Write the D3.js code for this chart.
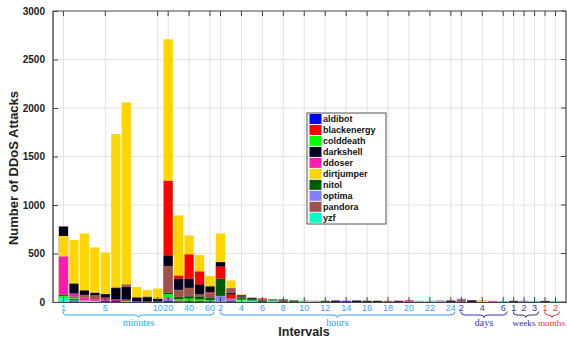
<!DOCTYPE html>
<html>
<head>
<meta charset="utf-8">
<script src="https://cdn.jsdelivr.net/npm/d3@7"></script>
<style>
  body { margin: 0; background: #fff; }
  svg { display: block; }
</style>
</head>
<body>
<svg id="chart" width="567" height="342"></svg>
<script>
// Interval groups along the x axis and the bins inside each of them
const groupNames = ["minutes", "hours", "days", "weeks", "months"];
const minuteBins = ["1","2","3","4","5","6","7","8","9","10","20","30","40","50","60"];
const hourBins = ["2","3","4","5","6","7","8","9","10","11","12","13","14","15","16","17","18","19","20","21","22","23","24"];
const dayBins = ["2","3","4","5","6"];
const weekBins = ["1","2","3"];
const monthBins = ["1","2"];

// Labelled ticks in each group
const minuteTicks = ["1","5","10","20","40","60"];
const hourTicks = ["2","4","6","8","10","12","14","16","18","20","22","24"];
const dayTicks = ["2","4","6"];
const weekTicks = ["1","2","3"];
const monthTicks = ["1","2"];

const yTicks = [0, 500, 1000, 1500, 2000, 2500, 3000];

// Botnet families
const seriesNames = ["aldibot","blackenergy","colddeath","darkshell","ddoser","dirtjumper","nitol","optima","pandora","yzf"];

// Attacks per bin (bins: 15 minute, 23 hour, 5 day, 3 week, 2 month)
const aldibot = [0,8,0,0,12,14,0,8,8,8, 12,8,10,10,8,
  0,10,0,0,0,0,0,0,0,0, 0,0,10,15,0,0,0,0,0,0,0,0,0,
  0,0,0,0,0, 0,0,0, 0,0];
const blackenergy = [0,0,0,0,0,28,25,0,0,0, 1250,272,492,316,100,
  364,76,0,0,38,0,0,0,0,0, 0,0,0,0,0,0,0,0,0,0,0,0,0,
  0,0,0,0,0, 0,0,0, 0,0];
const colddeath = [60,40,14,0,0,0,0,0,0,0, 80,28,34,25,20,
  0,0,25,0,0,0,0,0,0,0, 0,0,0,0,0,0,0,0,0,0,0,0,0,
  0,0,0,0,0, 0,0,0, 0,0];
const darkshell = [780,190,120,95,82,145,155,45,50,32, 480,240,240,182,162,
  412,92,70,40,0,0,28,0,0,0, 0,14,0,14,12,12,0,10,0,0,0,0,12,
  0,16,0,0,0, 10,0,0, 10,0];
const ddoser = [470,88,45,25,15,0,0,0,0,0, 40,15,0,0,0,
  0,17,0,0,0,0,0,0,0,0, 0,16,15,0,0,0,0,0,12,0,0,0,0,
  0,0,0,10,0, 0,0,0, 0,0];
const dirtjumper = [680,640,708,564,512,1732,2058,155,124,140, 2710,893,687,484,270,
  708,223,82,0,0,0,0,0,0,0, 0,0,0,0,16,15,15,0,0,0,0,0,0,
  0,0,12,0,0, 0,0,0, 0,0];
const nitol = [72,30,0,0,0,0,14,0,0,0, 95,52,60,58,45,
  240,0,40,30,15,18,12,12,14,13, 12,0,0,0,0,0,0,0,0,12,12,0,0,
  0,0,0,0,10, 0,0,10, 0,10];
const optima = [0,0,0,0,0,0,0,0,0,0, 25,0,0,0,0,
  62,34,0,0,0,0,0,0,0,0, 0,0,0,0,0,0,0,0,0,0,0,10,0,
  35,0,0,0,0, 0,10,0, 0,0];
const pandora = [0,58,72,68,45,152,182,50,56,36, 370,124,145,79,92,
  0,144,55,48,30,30,22,20,0,0, 14,0,0,0,0,0,12,16,20,0,0,16,18,
  22,20,16,12,0, 14,14,0, 12,0];
const yzf = [42,15,10,10,0,0,8,0,0,0, 0,0,0,0,0,
  0,0,15,15,0,12,0,0,10,9, 0,0,0,0,0,0,0,0,0,8,8,0,0,
  0,0,0,0,8, 0,0,8, 0,8];

const seriesValues = [aldibot, blackenergy, colddeath, darkshell, ddoser, dirtjumper, nitol, optima, pandora, yzf];
const seriesColors = ["#0000ff","#ff0000","#00ff00","#00001e","#ff1ab2","#ffd500","#005a00","#8080ff","#a0524a","#00ffc8"];

const groupBins = [minuteBins, hourBins, dayBins, weekBins, monthBins];
const groupTicks = [minuteTicks, hourTicks, dayTicks, weekTicks, monthTicks];
const groupColors = ["#1eb0ff", "#3d95ff", "#3535c8", "#30309a", "#ff3030"];

// Flatten the bins into consecutive positions 1..N
const bins = [];
groupBins.forEach((list, g) => list.forEach(label => bins.push({ group: g, label })));
const N = bins.length;

const svg = d3.select("#chart");
const plotL = 53, plotR = 566, plotT = 11, plotB = 302;

const x = d3.scaleLinear().domain([0, N + 1]).range([plotL, plotR]);
const y = d3.scaleLinear().domain([0, 3000]).range([plotB, plotT]);
const step = x(1) - x(0);
const barW = step * 0.9;

// Tick positions in bin index space
const tickPos = [];
let offset = 0;
groupBins.forEach((list, g) => {
  groupTicks[g].forEach(t => tickPos.push({ g, label: t, i: offset + list.indexOf(t) + 1 }));
  offset += list.length;
});

// Grid
const grid = svg.append("g");
grid.selectAll("line.h").data(yTicks.slice(1, -1)).join("line")
  .attr("x1", plotL).attr("x2", plotR)
  .attr("y1", d => y(d)).attr("y2", d => y(d))
  .attr("stroke", "#e3e3e3").attr("stroke-width", 1);
grid.selectAll("line.v").data(tickPos).join("line")
  .attr("x1", d => x(d.i)).attr("x2", d => x(d.i))
  .attr("y1", plotT).attr("y2", plotB)
  .attr("stroke", "#e3e3e3").attr("stroke-width", 1);

// Bars: every family drawn from zero, smaller values in front
const barsG = svg.append("g");
bins.forEach((b, i) => {
  const vals = seriesValues.map((arr, s) => ({ s, v: arr[i] })).filter(d => d.v > 0)
    .sort((a, c) => c.v - a.v);
  barsG.append("g").selectAll("rect").data(vals).join("rect")
    .attr("x", x(i + 1) - barW / 2)
    .attr("width", barW)
    .attr("y", d => y(d.v))
    .attr("height", d => y(0) - y(d.v))
    .attr("fill", d => seriesColors[d.s])
    .attr("stroke", "#ffffff").attr("stroke-opacity", 0.35).attr("stroke-width", 0.5);
});

// Frame
const frame = svg.append("g").attr("fill", "none");
frame.append("line").attr("x1", plotL).attr("x2", plotR).attr("y1", plotT).attr("y2", plotT)
  .attr("stroke", "#444").attr("stroke-width", 1.2);
frame.append("line").attr("x1", plotL).attr("x2", plotR).attr("y1", plotB + 0.5).attr("y2", plotB + 0.5)
  .attr("stroke", "#444").attr("stroke-width", 1);
frame.append("line").attr("x1", plotL).attr("x2", plotL).attr("y1", plotT).attr("y2", plotB + 1)
  .attr("stroke", "#555").attr("stroke-width", 1.5);
frame.append("line").attr("x1", plotR).attr("x2", plotR).attr("y1", plotT).attr("y2", plotB + 1)
  .attr("stroke", "#444").attr("stroke-width", 1.2);

// Y axis
const yAxis = d3.axisLeft(y).tickValues(yTicks).tickSize(-5).tickPadding(8).tickFormat(d3.format("d"));
const yG = svg.append("g").attr("transform", `translate(${plotL},0)`).call(yAxis);
yG.select(".domain").remove();
yG.selectAll(".tick line").attr("stroke", "#444");
yG.selectAll(".tick text").attr("font-family", "Liberation Sans, Arial, sans-serif")
  .attr("font-size", 10).attr("font-weight", "bold").attr("fill", "#222");
// right-side ticks
svg.append("g").selectAll("line").data(yTicks).join("line")
  .attr("x1", plotR - 5).attr("x2", plotR).attr("y1", d => y(d)).attr("y2", d => y(d))
  .attr("stroke", "#444");

// X ticks (top and bottom) and labels
const xt = svg.append("g");
xt.append("g").selectAll("line").data(tickPos).join("line")
  .attr("x1", d => x(d.i)).attr("x2", d => x(d.i)).attr("y1", plotT).attr("y2", plotT + 5)
  .attr("stroke", "#444");
xt.append("g").selectAll("line").data(tickPos).join("line")
  .attr("x1", d => x(d.i)).attr("x2", d => x(d.i)).attr("y1", plotB - 5).attr("y2", plotB)
  .attr("stroke", "#444");
xt.append("g").selectAll("text").data(tickPos).join("text")
  .attr("x", d => x(d.i)).attr("y", 311)
  .attr("text-anchor", "middle")
  .attr("font-family", "Liberation Sans, Arial, sans-serif").attr("font-size", 9)
  .attr("fill", d => groupColors[d.g])
  .text(d => d.label);

// Braces under each group
function bracePath(x1, x2, y0, depth, tip) {
  const xm = (x1 + x2) / 2, y1 = y0 + depth, r = Math.min(4, (x2 - x1) / 4);
  return `M${x1},${y0} Q${x1},${y1} ${x1 + r},${y1} L${xm - r},${y1} Q${xm},${y1} ${xm},${y1 + tip}` +
         ` Q${xm},${y1} ${xm + r},${y1} L${x2 - r},${y1} Q${x2},${y1} ${x2},${y0}`;
}
const braces = svg.append("g");
groupNames.forEach((name, g) => {
  const gt = tickPos.filter(d => d.g === g);
  const x1 = x(gt[0].i) - 0.5, x2 = x(gt[gt.length - 1].i) + 4;
  braces.append("path").attr("d", bracePath(x1, x2, 311.5, 3.5, 2.5))
    .attr("fill", "none").attr("stroke", groupColors[g]).attr("stroke-width", 1);
  // the two narrow groups at the right end share little room
  const narrow = g >= 3;
  const tx = g === 4 ? plotR - 14.5 : g === 3 ? 524 : (x1 + x2) / 2;
  braces.append("text").attr("x", tx).attr("y", 325.5)
    .attr("text-anchor", "middle")
    .attr("font-family", "Liberation Serif, Times New Roman, serif").attr("font-size", narrow ? 9.2 : 10)
    .attr("fill", groupColors[g]).text(name);
});

// Axis titles
svg.append("text").attr("x", 304).attr("y", 336).attr("text-anchor", "middle")
  .attr("font-family", "Liberation Sans, Arial, sans-serif").attr("font-size", 12.5)
  .attr("font-weight", "bold").attr("fill", "#222").text("Intervals");
svg.append("text").attr("transform", "translate(18,168) rotate(-90)").attr("text-anchor", "middle")
  .attr("font-family", "Liberation Sans, Arial, sans-serif").attr("font-size", 13)
  .attr("font-weight", "bold").attr("fill", "#222").text("Number of DDoS Attacks");

// Legend
const lg = svg.append("g").attr("transform", "translate(307,113)");
lg.append("rect").attr("x", 0).attr("y", 0).attr("width", 79).attr("height", 111)
  .attr("fill", "#fff").attr("stroke", "#555").attr("stroke-width", 1);
const item = lg.selectAll("g.item").data(seriesNames).join("g")
  .attr("transform", (d, i) => `translate(0,${6 + i * 10.97})`);
item.append("rect").attr("x", 2.5).attr("y", -5).attr("width", 12).attr("height", 10)
  .attr("fill", (d, i) => seriesColors[i]);
item.append("text").attr("x", 16).attr("y", 3.3)
  .attr("font-family", "Liberation Sans, Arial, sans-serif").attr("font-size", 9)
  .attr("font-weight", "bold").attr("fill", "#111").text(d => d);
</script>
</body>
</html>
